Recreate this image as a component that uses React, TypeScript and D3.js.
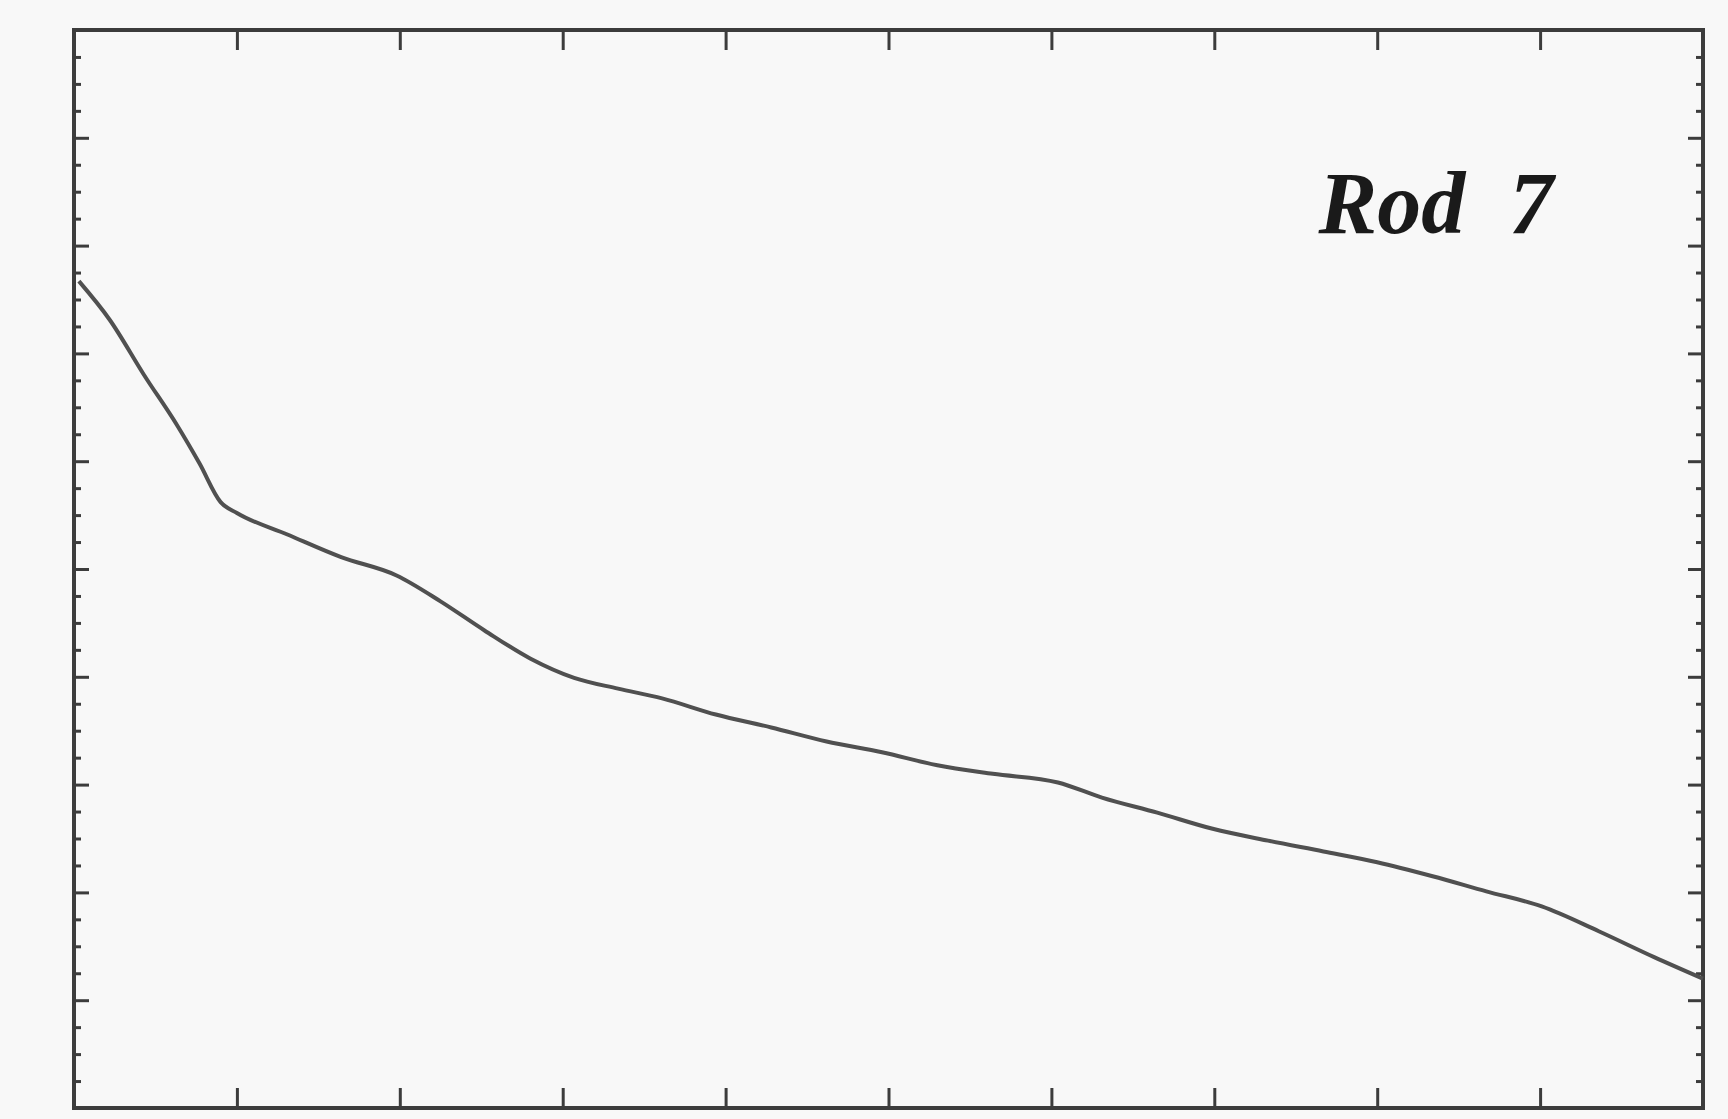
import React, { useEffect, useRef } from 'react'
import * as d3 from 'd3'

// (x: 0..10, y: 0..10 in box units)
const xValues = [0.03, 0.22, 0.43, 0.63, 0.77, 0.9, 1.0, 1.31, 1.64, 1.98, 2.25, 2.52, 2.8, 3.07, 3.34, 3.61, 3.94, 4.28, 4.62, 4.96, 5.3, 5.64, 6.04, 6.31, 6.65, 6.99, 7.33, 7.67, 8.0, 8.34, 8.67, 9.01, 9.36, 9.7, 10.0]
const yValues = [7.67, 7.31, 6.8, 6.34, 5.98, 5.62, 5.52, 5.32, 5.11, 4.94, 4.7, 4.43, 4.17, 3.99, 3.89, 3.8, 3.65, 3.53, 3.4, 3.3, 3.18, 3.1, 3.02, 2.88, 2.74, 2.59, 2.48, 2.38, 2.28, 2.15, 2.01, 1.87, 1.64, 1.4, 1.2]
const xTicks = [1, 2, 3, 4, 5, 6, 7, 8, 9]
const yTicks = [1, 2, 3, 4, 5, 6, 7, 8, 9]
const yMinorTicks = d3.range(0.25, 10, 0.25).filter(v => Math.abs(v - Math.round(v)) > 0.01)
const label = 'Rod 7'

const width = 1728
const height = 1119
const box = { left: 74, right: 1703, top: 30, bottom: 1108 }
const ink = '#3c3c3c'

export default function App() {
  const ref = useRef<SVGSVGElement>(null)

  useEffect(() => {
    const svg = d3.select(ref.current)
    svg.selectAll('*').remove()

    const x = d3.scaleLinear().domain([0, 10]).range([box.left, box.right])
    const y = d3.scaleLinear().domain([0, 10]).range([box.bottom, box.top])

    svg.append('rect').attr('width', width).attr('height', height).attr('fill', '#f8f8f8')

    // axes, ticks pointing inward
    const bottom = svg.append('g').attr('transform', `translate(0,${box.bottom})`)
      .call(d3.axisBottom(x).tickValues(xTicks).tickSize(-20).tickFormat(() => ''))
    const top = svg.append('g').attr('transform', `translate(0,${box.top})`)
      .call(d3.axisTop(x).tickValues(xTicks).tickSize(-20).tickFormat(() => ''))
    const left = svg.append('g').attr('transform', `translate(${box.left},0)`)
      .call(d3.axisLeft(y).tickValues(yTicks).tickSize(-15).tickFormat(() => ''))
    const right = svg.append('g').attr('transform', `translate(${box.right},0)`)
      .call(d3.axisRight(y).tickValues(yTicks).tickSize(-15).tickFormat(() => ''))
    const leftMinor = svg.append('g').attr('transform', `translate(${box.left},0)`)
      .call(d3.axisLeft(y).tickValues(yMinorTicks).tickSize(-7).tickFormat(() => ''))
    const rightMinor = svg.append('g').attr('transform', `translate(${box.right},0)`)
      .call(d3.axisRight(y).tickValues(yMinorTicks).tickSize(-7).tickFormat(() => ''))

    ;[bottom, top, left, right, leftMinor, rightMinor].forEach(g => {
      g.select('.domain').remove()
      g.selectAll('line').attr('stroke', ink).attr('stroke-width', 3)
    })

    svg.append('rect')
      .attr('x', box.left)
      .attr('y', box.top)
      .attr('width', box.right - box.left)
      .attr('height', box.bottom - box.top)
      .attr('fill', 'none')
      .attr('stroke', ink)
      .attr('stroke-width', 4)

    const points = xValues.map((v, i) => [v, yValues[i]] as [number, number])
    const line = d3.line<[number, number]>()
      .x(d => x(d[0]))
      .y(d => y(d[1]))
      .curve(d3.curveMonotoneX)

    svg.append('path')
      .datum(points)
      .attr('d', line)
      .attr('fill', 'none')
      .attr('stroke', '#505050')
      .attr('stroke-width', 4)
      .attr('stroke-linejoin', 'round')

    svg.append('text')
      .attr('x', x(7.64))
      .attr('y', y(8.12))
      .attr('font-family', '"Times New Roman", "Liberation Serif", Times, serif')
      .attr('font-style', 'italic')
      .attr('font-weight', 'bold')
      .attr('font-size', 88)
      .attr('fill', '#1a1a1a')
      .attr('xml:space', 'preserve')
      .text(label.replace(' ', '  '))
  }, [])

  return (
    <svg
      ref={ref}
      width={width}
      height={height}
      style={{ position: 'absolute', left: 0, top: 0, display: 'block' }}
    />
  )
}
